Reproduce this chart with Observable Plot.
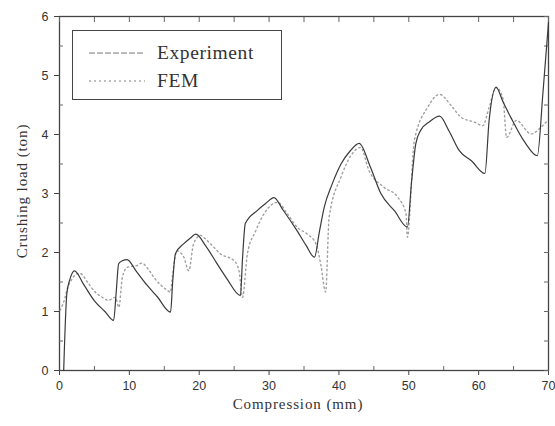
<!DOCTYPE html>
<html>
<head>
<meta charset="utf-8">
<script src="https://cdn.jsdelivr.net/npm/d3@7"></script>
<script src="https://cdn.jsdelivr.net/npm/@observablehq/plot@0.6"></script>
<style>
  body { margin: 0; background: #fff; }
  #wrap { position: relative; width: 555px; height: 426px; }
  #legend { position: absolute; left: 72px; top: 30px; width: 208px; height: 68px; border: 1.3px solid #444; background: #fff; font-family: "Liberation Serif", "DejaVu Serif", serif; font-size: 19.5px; letter-spacing: 0.6px; color: #333; }
  .row { position: absolute; left: 0; height: 22px; display: flex; align-items: center; }
  .row svg { margin-left: 16px; margin-right: 12px; }
  .lab { position: absolute; font-family: "Liberation Serif", "DejaVu Serif", serif; font-size: 15px; letter-spacing: 0.9px; color: #333; white-space: nowrap; }
</style>
</head>
<body>
<div id="wrap"></div>
<script>
const expX = [0.6, 1.05, 1.5, 2.15, 3.5, 5.0, 6.5, 7.75, 8.1, 8.47, 9.0, 9.67, 11.0, 12.5, 14.0, 15.9, 16.2, 16.6, 17.8, 18.7, 19.5, 21.0, 22.5, 24.0, 25.9, 26.2, 26.6, 28.3, 29.5, 30.7, 32.0, 34.0, 35.3, 36.5, 37.2, 37.9, 39.0, 40.3, 41.6, 42.9, 44.5, 46.0, 48.0, 49.8, 50.4, 51.0, 51.7, 53.0, 54.4, 55.8, 57.2, 59.0, 60.9, 61.5, 62.5, 63.5, 64.6, 66.6, 68.4, 69.2, 70.0];
const expY = [0.0, 1.3, 1.55, 1.69, 1.45, 1.18, 1.0, 0.85, 1.3, 1.81, 1.86, 1.88, 1.68, 1.45, 1.25, 0.99, 1.5, 1.98, 2.15, 2.24, 2.31, 2.1, 1.82, 1.55, 1.27, 1.9, 2.49, 2.71, 2.83, 2.93, 2.72, 2.37, 2.12, 1.92, 2.35, 2.77, 3.15, 3.5, 3.72, 3.85, 3.45, 3.0, 2.7, 2.43, 3.2, 3.84, 4.07, 4.22, 4.31, 4.05, 3.73, 3.55, 3.34, 4.24, 4.8, 4.55, 4.29, 3.87, 3.64, 4.7, 5.9];

const femX = [0.1, 0.8, 1.05, 1.8, 2.5, 3.0, 4.0, 5.1, 6.0, 7.0, 8.0, 8.5, 9.0, 9.7, 11.1, 11.8, 12.8, 13.7, 15.2, 15.9, 16.1, 16.8, 17.8, 18.5, 19.2, 20.2, 20.9, 22.0, 23.0, 25.0, 25.7, 26.2, 26.9, 28.1, 29.3, 31.2, 32.6, 34.0, 35.5, 36.7, 37.4, 38.1, 38.6, 40.3, 41.7, 43.1, 44.3, 46.4, 48.4, 49.6, 49.8, 50.8, 52.7, 54.4, 56.0, 57.5, 59.4, 60.6, 61.5, 62.5, 63.5, 64.0, 65.4, 67.5, 68.9, 69.9];
const femY = [1.02, 1.24, 1.36, 1.55, 1.64, 1.64, 1.5, 1.33, 1.25, 1.19, 1.24, 1.07, 1.58, 1.75, 1.78, 1.82, 1.7, 1.55, 1.38, 1.33, 1.53, 2.03, 1.92, 1.69, 2.15, 2.29, 2.23, 2.1, 1.98, 1.86, 1.69, 1.24, 1.98, 2.37, 2.66, 2.85, 2.66, 2.43, 2.31, 2.15, 1.8, 1.33, 2.6, 3.28, 3.64, 3.78, 3.39, 3.11, 2.94, 2.66, 2.26, 3.9, 4.46, 4.68, 4.5, 4.29, 4.21, 4.15, 4.46, 4.8, 4.6, 3.95, 4.24, 4.01, 4.12, 4.24];

const xTicks = [0, 10, 20, 30, 40, 50, 60, 70];
const xMinor = [5, 15, 25, 35, 45, 55, 65];
const yTicks = [0, 1, 2, 3, 4, 5, 6];
const yMinor = [0.5, 1.5, 2.5, 3.5, 4.5, 5.5];
const xLabel = "Compression (mm)";
const yLabel = "Crushing load (ton)";
const seriesNames = ["Experiment", "FEM"];

const exp = expX.map((x, i) => ({x, y: expY[i]}));
const fem = femX.map((x, i) => ({x, y: femY[i]}));

const chart = Plot.plot({
  width: 555,
  height: 426,
  marginLeft: 59,
  marginRight: 7,
  marginTop: 16,
  marginBottom: 56,
  style: {fontFamily: "'Liberation Sans', Arial, sans-serif", fontSize: "12.5px", color: "#333", background: "#fff"},
  x: {domain: [0, 70]},
  y: {domain: [0, 6]},
  marks: [
    Plot.frame({stroke: "#444", strokeWidth: 1.3}),
    Plot.axisX({ticks: xTicks, tickSize: 5, tickPadding: 6, tickFormat: d3.format("d"), label: null, stroke: "#444"}),
    Plot.axisX({ticks: xMinor, tickSize: -4, tickFormat: () => "", label: null, stroke: "#666"}),
    Plot.axisX({anchor: "top", ticks: xTicks.concat(xMinor), tickSize: -5, tickFormat: () => "", label: null, stroke: "#666"}),
    Plot.axisY({ticks: yTicks, tickSize: 5, tickPadding: 6, tickFormat: d3.format("d"), label: null, stroke: "#444"}),
    Plot.axisY({ticks: yMinor, tickSize: -4, tickFormat: () => "", label: null, stroke: "#666"}),
    Plot.axisY({anchor: "right", ticks: yTicks.concat(yMinor), tickSize: -5, tickFormat: () => "", label: null, stroke: "#666"}),
    Plot.line(fem, {x: "x", y: "y", stroke: "#a0a0a0", strokeWidth: 1.4, strokeDasharray: "1.5,3", curve: "monotone-x"}),
    Plot.line(exp, {x: "x", y: "y", stroke: "#3a3a3a", strokeWidth: 1.2, curve: "monotone-x"})
  ]
});

const wrap = document.getElementById("wrap");
wrap.appendChild(chart);

const xl = document.createElement("div");
xl.className = "lab";
xl.textContent = xLabel;
xl.style.left = "298px"; xl.style.top = "396px"; xl.style.transform = "translateX(-50%)";
wrap.appendChild(xl);
const yl = document.createElement("div");
yl.className = "lab";
yl.textContent = yLabel;
yl.style.left = "22px"; yl.style.top = "191px"; yl.style.transform = "translate(-50%, -50%) rotate(-90deg)";
wrap.appendChild(yl);

const legend = document.createElement("div");
legend.id = "legend";
const styles = [{stroke: "#777", dash: "6,2", w: 1}, {stroke: "#aaa", dash: "2,3", w: 1.3}];
seriesNames.forEach((name, i) => {
  const row = document.createElement("div");
  row.className = "row";
  row.style.top = (11 + i * 28) + "px";
  row.innerHTML = `<svg width="56" height="6"><line x1="0" y1="3" x2="56" y2="3" stroke="${styles[i].stroke}" stroke-width="${styles[i].w}" stroke-dasharray="${styles[i].dash}"/></svg><span>${name}</span>`;
  legend.appendChild(row);
});
wrap.appendChild(legend);
</script>
</body>
</html>
